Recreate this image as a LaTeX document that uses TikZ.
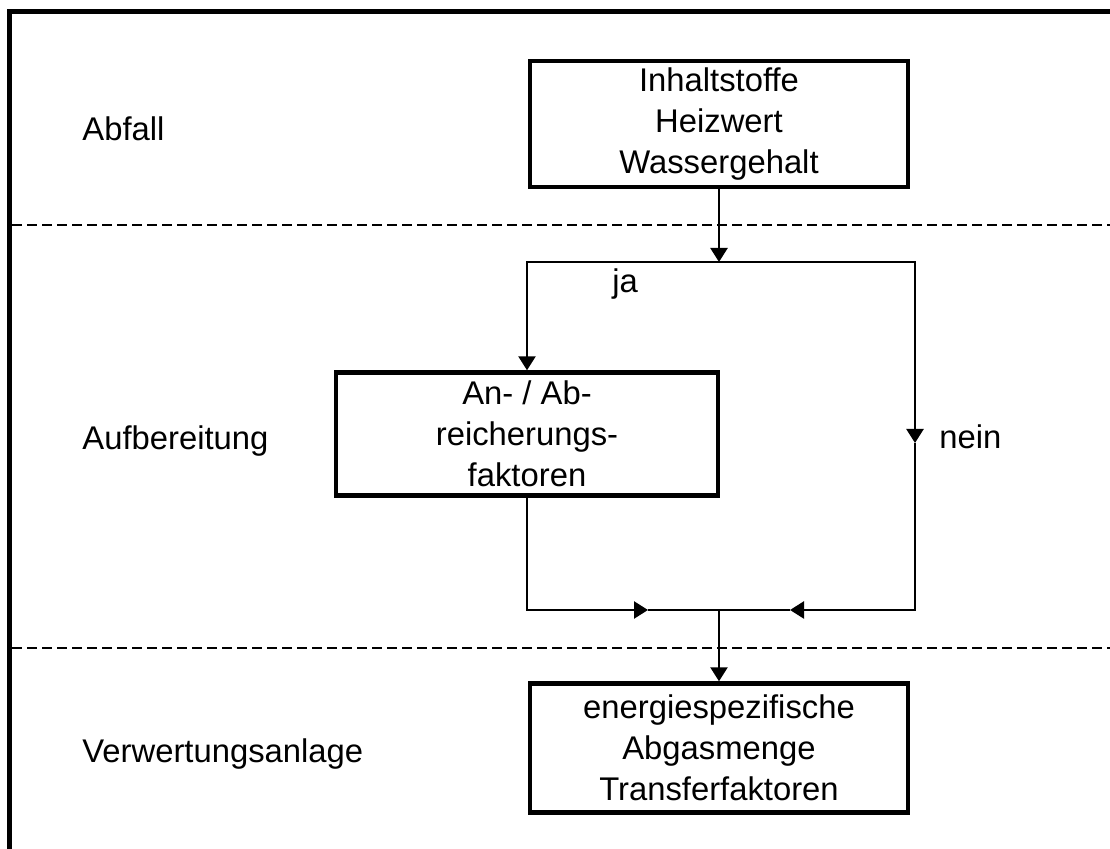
\documentclass[tikz,border=0pt]{standalone}
\usepackage{fontspec}
\setmainfont{Liberation Sans}
\usetikzlibrary{arrows.meta,calc,positioning}

\begin{document}
\begin{tikzpicture}[x=0.5pt,y=-0.5pt,>={Triangle[length=7pt,width=8.5pt]},
  font=\fontsize{16.4pt}{20.5pt}\selectfont]

  \tikzstyle{B}=[line width=2.2pt,rectangle, draw, minimum width=189pt,minimum
    height=63pt, align=center, inner sep=0pt];
  \tikzstyle{L}=[anchor=base west, inner sep=0pt];
  \tikzstyle{C}=[line width=1.2pt];
  \tikzstyle{D}=[line width=1pt, dash pattern=on 5pt off 2.5pt];

  \useasboundingbox (0,0) rectangle (1110,849);

  %% frame and layer borders
  \draw[line width=2.3pt] (9.5,849) -- (9.5,11.5) -- (1110,11.5);
  \draw[D] (12,225) -- (1110,225);
  \draw[D] (12,648) -- (1110,648);

  %% layers
  \node [L] (abf) at (82,141) {Abfall};
  \node [L] (auf) at (82,450) {Aufbereitung};
  \node [L] (ver) at (82,763) {Verwertungsanlage};

  \node [B] (inh) at (719,124) {Inhaltstoffe\\Heizwert\\Wassergehalt};
  \node [B,minimum width=191pt,minimum height=61.5pt] (anr) at (527,434)
    {An- / Ab-\\reicherungs-\\faktoren};
  \node [B,minimum height=64.5pt] (ewa) at (719,748)
    {energiespezifische\\Abgasmenge\\Transferfaktoren};

  \node [L] (ja) at (612,293) {ja};
  \node [L] (nein) at (939,449) {nein};

  %% branching
  \coordinate (s) at (719,262);
  \coordinate (nm) at (915,443);
  \coordinate (j) at (719,610);
  \coordinate (jl) at (648,610);
  \coordinate (jr) at (790,610);

  \draw[C,->] (inh) -- (s);
  \draw[C,->] (s) -| (anr);
  \draw[C,->] (s) -| (nm);
  \draw[C,->] (nm) |- (jr);
  \draw[C,->] (anr) |- (jl);
  \draw[C] (jl) -- (jr);
  \draw[C,->] (j) -- (ewa);

\end{tikzpicture}
\end{document}
